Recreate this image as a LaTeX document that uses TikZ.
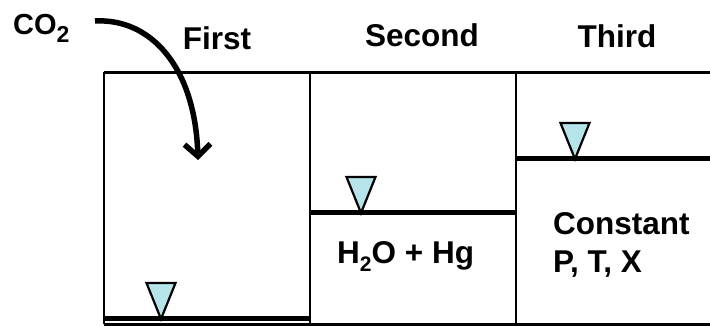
\documentclass[tikz,border=0pt]{standalone}
\usepackage{fontspec}
\setmainfont{Liberation Sans}
\usetikzlibrary{arrows.meta}
\definecolor{watercyan}{RGB}{183,228,234}
\newcommand{\lowsub}[2][21]{\raisebox{-8pt}{\fontsize{#1}{#1}\selectfont #2}}
\tikzset{
	wall/.style={black, line width=2.6pt},
	level/.style={black, line width=5pt},
	head/.style={font=\fontsize{31.5}{38}\selectfont\bfseries, inner sep=0pt},
	inflow/.style={black, line width=5.5pt, -{Straight Barb[length=12pt,width=26pt]}},
	levelmark/.pic={\draw[fill=watercyan, line width=2.2pt] (-14.5,36) -- (14.5,36) -- (0,0) -- cycle;}
}
\begin{document}
\begin{tikzpicture}[x=1pt,y=1pt]
				\useasboundingbox (0,0) rectangle (710,326);
				% tank outline and dividers
				\draw[wall] (104,253.5) -- (710,253.5);
				\draw[wall] (104,1.5) -- (710,1.5);
				\draw[wall] (104,1.5) -- (104,253.5);
				\draw[wall] (310,1.5) -- (310,253.5);
				\draw[wall] (516,1.5) -- (516,253.5);
				% water levels
				\pic at (161,7) {levelmark};
				\pic at (361,113) {levelmark};
				\pic at (575,167) {levelmark};
				\draw[level] (104,7) -- (310,7);
				\draw[level] (310,113) -- (516,113);
				\draw[level] (516,167) -- (710,167);
				% labels
				\node[head, anchor=base] (first) at (217,276) {First};
				\node[head, anchor=base] (second) at (422,279) {Second};
				\node[head, anchor=base] (third) at (617,278) {Third};
				\node[head, anchor=base west, font=\fontsize{29}{34}\selectfont\bfseries] (co2) at (13,291) {CO\lowsub[23]{2}};
				\node[head, anchor=base west] (mix) at (337,62) {H\lowsub{2}O + Hg};
				\node[head, anchor=base west] (constant) at (553,91) {Constant};
				\node[head, anchor=base west] (ptx) at (553,53) {P, T, X};
				% gas inflow
				\coordinate (arrowstart) at (95,305);
				\coordinate (arrowtip) at (198,166);
				\draw[inflow] (arrowstart) .. controls (150,308) and (195,260) .. (arrowtip);
			\end{tikzpicture}
\end{document}
